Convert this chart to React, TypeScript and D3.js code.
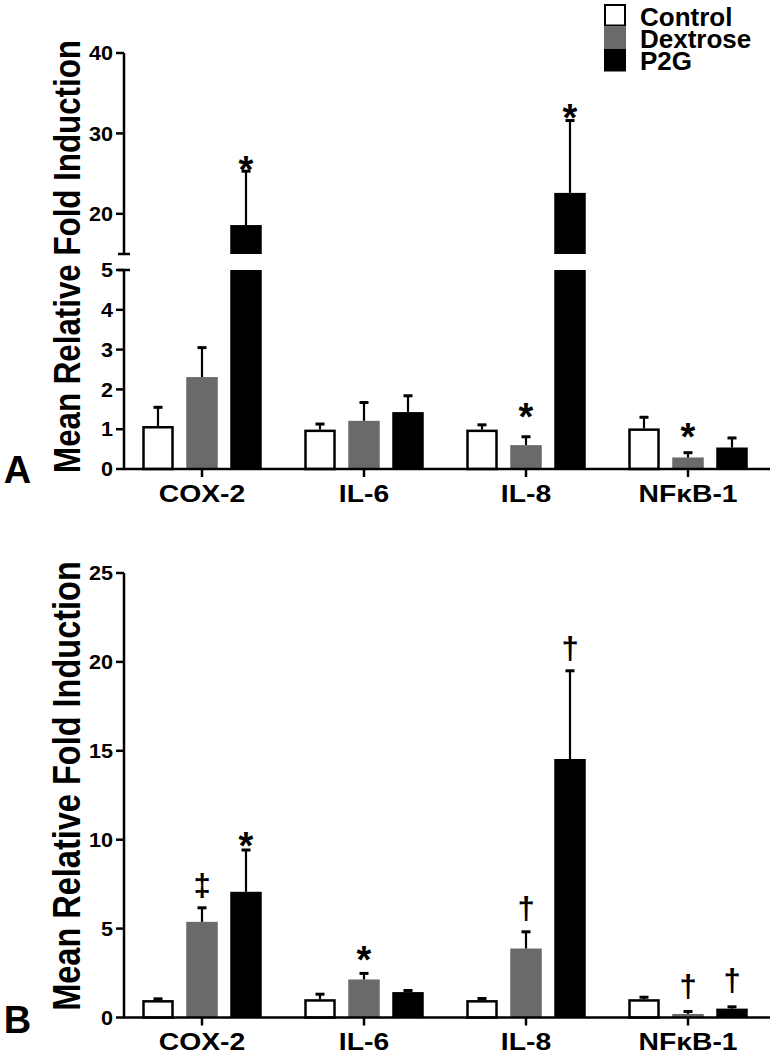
import React from "react";
import * as d3 from "d3";

// ---------- data ----------
const genes = ["COX-2", "IL-6", "IL-8", "NFκB-1"];
const seriesNames = ["Control", "Dextrose", "P2G"];
const seriesFill = ["#ffffff", "#6a6a6a", "#000000"];

// Panel A (broken axis)
const aControl = [1.08, 0.99, 0.99, 1.02];
const aControlSem = [0.47, 0.14, 0.12, 0.28];
const aDextrose = [2.31, 1.21, 0.6, 0.29];
const aDextroseSem = [0.74, 0.46, 0.21, 0.12];
const aP2G = [18.6, 1.43, 22.6, 0.54];
const aP2GSem = [6.7, 0.41, 9.0, 0.24];
const aControlSig = ["", "", "", ""];
const aDextroseSig = ["", "", "*", "*"];
const aP2GSig = ["*", "", "*", ""];
const aControlSigAt = [0, 0, 0, 0];
const aDextroseSigAt = [0, 0, 1.51, 1.0];
const aP2GSigAt = [26.5, 0, 33.0, 0];
const aLowTicks = [0, 1, 2, 3, 4, 5];
const aHighTicks = [20, 30, 40];

// Panel B
const bControl = [0.98, 1.03, 0.98, 1.03];
const bControlSem = [0.07, 0.28, 0.09, 0.11];
const bDextrose = [5.38, 2.14, 3.88, 0.2];
const bDextroseSem = [0.79, 0.34, 0.94, 0.14];
const bP2G = [7.07, 1.43, 14.54, 0.5];
const bP2GSem = [2.35, 0.09, 4.96, 0.1];
const bControlSig = ["", "", "", ""];
const bDextroseSig = ["‡", "*", "†", "†"];
const bP2GSig = ["*", "", "†", "†"];
const bControlSigAt = [0, 0, 0, 0];
const bDextroseSigAt = [7.35, 3.7, 6.04, 1.67];
const bP2GSigAt = [10.1, 0, 20.67, 2.0];
const bTicks = [0, 5, 10, 15, 20, 25];

const yLabel = "Mean Relative Fold Induction";

// ---------- layout ----------
const FONT = "'Liberation Sans', Arial, Helvetica, sans-serif";
const AX = 124;
const XR = 770;
const BAR_W = 31.5;
const SW = 2.5;

const xGroup = d3.scaleBand().domain(genes).range([121, 769]).padding(0);
const xInner = d3.scalePoint().domain(seriesNames).range([-44, 44]);
const gx = (g: string) => (xGroup(g) as number) + xGroup.bandwidth() / 2;

// Panel A scales
const aBase = 469;
const yALow = d3.scaleLinear().domain([0, 5]).range([aBase, 270]);
const yAHigh = d3.scaleLinear().domain([15, 40]).range([254, 53]);
const yA = (v: number) => (v <= 5 ? yALow(v) : yAHigh(v));

// Panel B scale
const bBase = 1017.5;
const yB = d3.scaleLinear().domain([0, 25]).range([bBase, 573]);

type Series = { vals: number[]; sem: number[]; sig: string[]; sigAt: number[] };

const aSeries: Series[] = [
  { vals: aControl, sem: aControlSem, sig: aControlSig, sigAt: aControlSigAt },
  { vals: aDextrose, sem: aDextroseSem, sig: aDextroseSig, sigAt: aDextroseSigAt },
  { vals: aP2G, sem: aP2GSem, sig: aP2GSig, sigAt: aP2GSigAt },
];
const bSeries: Series[] = [
  { vals: bControl, sem: bControlSem, sig: bControlSig, sigAt: bControlSigAt },
  { vals: bDextrose, sem: bDextroseSem, sig: bDextroseSig, sigAt: bDextroseSigAt },
  { vals: bP2G, sem: bP2GSem, sig: bP2GSig, sigAt: bP2GSigAt },
];

function SigMark({ x, y, s }: { x: number; y: number; s: string }) {
  if (!s) return null;
  const isStar = s === "*";
  const fs = isStar ? 38 : 31;
  const off = isStar ? 0.56 * fs : 0.3 * fs;
  return (
    <text x={x} y={y + off} textAnchor="middle" fontFamily={FONT} fontWeight="bold" fontSize={fs} fill="#000">
      {s}
    </text>
  );
}

function Bars({ series, y, broken }: { series: Series[]; y: (v: number) => number; broken: boolean }) {
  const out: any[] = [];
  series.forEach((s, si) => {
    const name = seriesNames[si];
    const fill = seriesFill[si];
    genes.forEach((g, gi) => {
      const v = s.vals[gi];
      const cx = gx(g) + (xInner(name) as number);
      const x0 = cx - BAR_W / 2;
      const base = y(0);
      const stroke = si === 0 ? "#000" : "none";
      const inset = si === 0 ? SW / 2 : 0;
      if (broken && v > 5) {
        out.push(
          <rect key={`l${si}${gi}`} x={x0} y={yALow(5)} width={BAR_W} height={base - yALow(5)} fill={fill} />,
          <rect key={`h${si}${gi}`} x={x0} y={yAHigh(v)} width={BAR_W} height={yAHigh(15) - yAHigh(v)} fill={fill} />
        );
      } else {
        out.push(
          <rect
            key={`b${si}${gi}`}
            x={x0 + inset}
            y={y(v) + inset}
            width={BAR_W - 2 * inset}
            height={Math.max(0, base - y(v) - inset)}
            fill={fill}
            stroke={stroke}
            strokeWidth={SW}
          />
        );
      }
      const top = y(v + s.sem[gi]);
      out.push(
        <line key={`e${si}${gi}`} x1={cx} x2={cx} y1={y(v)} y2={top} stroke="#000" strokeWidth={2.2} />,
        <line key={`c${si}${gi}`} x1={cx - 4.5} x2={cx + 4.5} y1={top} y2={top} stroke="#000" strokeWidth={3} />
      );
      if (s.sig[gi]) {
        out.push(<SigMark key={`s${si}${gi}`} x={cx} y={y(s.sigAt[gi])} s={s.sig[gi]} />);
      }
    });
  });
  return <g>{out}</g>;
}

function YTicks({ ticks, y }: { ticks: number[]; y: (v: number) => number }) {
  return (
    <g>
      {ticks.map((t) => (
        <g key={t}>
          <line x1={AX - 8} x2={AX} y1={y(t)} y2={y(t)} stroke="#000" strokeWidth={SW} />
          <g transform={`translate(113,${y(t)}) scale(1.08,1)`}>
            <text x={0} y={0} dy="0.36em" textAnchor="end" fontFamily={FONT} fontWeight="bold" fontSize={20}>
              {t}
            </text>
          </g>
        </g>
      ))}
    </g>
  );
}

function XAxis({ base }: { base: number }) {
  return (
    <g>
      <line x1={AX - 1} x2={XR} y1={base} y2={base} stroke="#000" strokeWidth={SW} />
      {genes.map((g) => (
        <g key={g}>
          <line x1={gx(g)} x2={gx(g)} y1={base} y2={base + 8} stroke="#000" strokeWidth={SW} />
          <g transform={`translate(${gx(g)},${base + 32.5}) scale(1.18,1)`}>
            <text x={0} y={0} textAnchor="middle" fontFamily={FONT} fontWeight="bold" fontSize={24}>
              {g}
            </text>
          </g>
        </g>
      ))}
    </g>
  );
}

function YLabel({ bx, cy, fs }: { bx: number; cy: number; fs: number }) {
  return (
    <g transform={`translate(${bx},${cy}) rotate(-90) scale(1,1.19)`}>
      <text x={0} y={0} textAnchor="middle" fontFamily={FONT} fontWeight="bold" fontSize={fs}>
        {yLabel}
      </text>
    </g>
  );
}

export default function App() {
  const legendX = 604;
  const legendY = [4, 26.5, 49];
  const legendTextY = [26, 47.5, 69.5];
  return (
    <svg width={774} height={1056} style={{ position: "absolute", left: 0, top: 0, background: "#fff" }}>
      <rect width={774} height={1056} fill="#fff" />
      {/* Panel A */}
      <YLabel bx={80} cy={256.5} fs={31.3} />
      <text x={17.5} y={483} textAnchor="middle" fontFamily={FONT} fontWeight="bold" fontSize={38}>
        A
      </text>
      <line x1={AX} x2={AX} y1={yAHigh(40)} y2={yAHigh(15)} stroke="#000" strokeWidth={SW} />
      <line x1={AX - 6} x2={AX + 6} y1={yAHigh(15)} y2={yAHigh(15)} stroke="#000" strokeWidth={SW} />
      <line x1={AX} x2={AX} y1={yALow(5)} y2={aBase} stroke="#000" strokeWidth={SW} />
      <line x1={AX - 6} x2={AX + 6} y1={yALow(5)} y2={yALow(5)} stroke="#000" strokeWidth={SW} />
      <YTicks ticks={aHighTicks} y={yAHigh} />
      <YTicks ticks={aLowTicks} y={yALow} />
      <Bars series={aSeries} y={yA} broken={true} />
      <XAxis base={aBase} />

      {/* Legend */}
      {seriesNames.map((n, i) => (
        <g key={n}>
          <rect
            x={legendX + (i === 0 ? 1 : 0)}
            y={legendY[i] + (i === 0 ? 1 : 0)}
            width={22 - (i === 0 ? 2 : 0)}
            height={22.5 - (i === 0 ? 2 : 0)}
            fill={seriesFill[i]}
            stroke={i === 0 ? "#000" : "none"}
            strokeWidth={2}
          />
          <text x={640} y={legendTextY[i]} fontFamily={FONT} fontWeight="bold" fontSize={26}>
            {n}
          </text>
        </g>
      ))}

      {/* Panel B */}
      <YLabel bx={80} cy={786} fs={32.5} />
      <text x={17.5} y={1033} textAnchor="middle" fontFamily={FONT} fontWeight="bold" fontSize={38}>
        B
      </text>
      <line x1={AX} x2={AX} y1={yB(25)} y2={bBase} stroke="#000" strokeWidth={SW} />
      <YTicks ticks={bTicks} y={yB} />
      <Bars series={bSeries} y={yB} broken={false} />
      <XAxis base={bBase} />
    </svg>
  );
}
